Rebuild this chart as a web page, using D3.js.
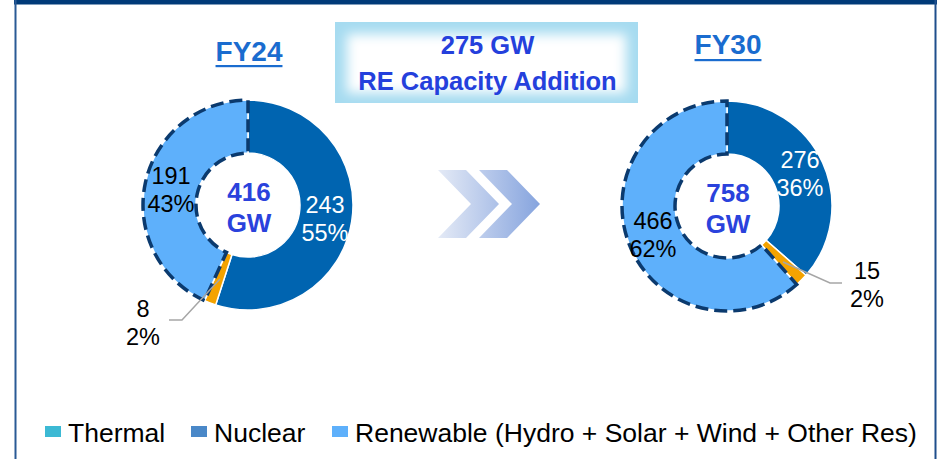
<!DOCTYPE html>
<html>
<head>
<meta charset="utf-8">
<script src="https://cdn.jsdelivr.net/npm/d3@7"></script>
<style>
html,body{margin:0;padding:0;background:#fff;}
svg{display:block;font-family:"Liberation Sans",Arial,sans-serif;}
</style>
</head>
<body>
<svg id="chart" width="937" height="459"></svg>
<script>
// ---- data ----
const categories = ["Thermal", "Nuclear", "Renewable (Hydro + Solar + Wind + Other Res)"];
const periods = ["FY24", "FY30"];
const totals = ["416", "758"];
const fy24Values = [243, 8, 191];
const fy24Pct = ["55%", "2%", "43%"];
const fy30Values = [276, 15, 466];
const fy30Pct = ["36%", "2%", "62%"];
const boxLines = ["275 GW", "RE Capacity Addition"];

// ---- styles ----
const sliceColors = ["#0064b0", "#f4a300", "#5eb0fb"];
const legendColors = ["#3cb9d4", "#4a88c8", "#5eb0fb"];
const W = 937, H = 459;
const svg = d3.select("#chart");
const defs = svg.append("defs");

// frame
svg.append("rect").attr("x", 14).attr("y", 0).attr("width", W - 14).attr("height", 4.5).attr("fill", "#003a78");
svg.append("line").attr("x1", 15.5).attr("x2", 15.5).attr("y1", 0).attr("y2", H).attr("stroke", "#2a5a95").attr("stroke-width", 2);
svg.append("line").attr("x1", 935.5).attr("x2", 935.5).attr("y1", 0).attr("y2", H).attr("stroke", "#1f4e8c").attr("stroke-width", 2);

// center box with glow
const blur = defs.append("filter").attr("id", "blur").attr("x", "-20%").attr("y", "-50%").attr("width", "140%").attr("height", "200%");
blur.append("feGaussianBlur").attr("stdDeviation", 6);
const box = {x: 335, y: 22, w: 303, h: 81};
svg.append("rect").attr("x", box.x).attr("y", box.y).attr("width", box.w).attr("height", box.h).attr("fill", "#a6dbf0");
const clip = defs.append("clipPath").attr("id", "boxclip");
clip.append("rect").attr("x", box.x).attr("y", box.y).attr("width", box.w).attr("height", box.h);
svg.append("g").attr("clip-path", "url(#boxclip)")
  .append("rect").attr("x", box.x + 12).attr("y", box.y + 12).attr("width", box.w - 24).attr("height", box.h - 22)
  .attr("fill", "#ffffff").attr("filter", "url(#blur)");
svg.selectAll("text.box").data(boxLines).join("text").attr("class", "box")
  .attr("x", box.x + box.w / 2 + 1).attr("y", (d, i) => 54 + i * 35.5)
  .attr("text-anchor", "middle").attr("font-size", 25.5).attr("font-weight", "bold").attr("fill", "#2440dc")
  .text(d => d);

// chevrons
const grad = defs.append("linearGradient").attr("id", "chev").attr("gradientUnits", "userSpaceOnUse")
  .attr("x1", 438).attr("x2", 540).attr("y1", 0).attr("y2", 0);
grad.append("stop").attr("offset", 0).attr("stop-color", "#e4eaf6");
grad.append("stop").attr("offset", 1).attr("stop-color", "#86a4de");
[438, 479].forEach(x0 => {
  const top = 170, bot = 238, mid = 204, w = 28, d = 33;
  svg.append("path")
    .attr("d", `M${x0},${top}L${x0 + w},${top}L${x0 + w + d},${mid}L${x0 + w},${bot}L${x0},${bot}L${x0 + d},${mid}Z`)
    .attr("fill", "url(#chev)");
});

// donuts
const pie = d3.pie().sort(null).value(d => d);
const donuts = [
  {cx: 248, cy: 205, values: fy24Values, pct: fy24Pct, total: totals[0], title: periods[0], titleY: 61, ulY: 65,
   labels: [{x: 325, y: 213, fill: "#fff"}, {x: 143, y: 317, fill: "#000"}, {x: 171, y: 184, fill: "#000"}],
   leader: [[220, 279], [182, 320], [169, 320]]},
  {cx: 727, cy: 206, values: fy30Values, pct: fy30Pct, total: totals[1], title: periods[1], titleY: 54, ulY: 59,
   labels: [{x: 800, y: 168, fill: "#fff"}, {x: 867, y: 279, fill: "#000"}, {x: 653, y: 229, fill: "#000"}],
   leader: [[783, 262], [830, 283], [842, 283]]}
];
const arc = d3.arc().innerRadius(52).outerRadius(105);

donuts.forEach(dn => {
  const g = svg.append("g").attr("transform", `translate(${dn.cx},${dn.cy})`);
  const arcs = pie(dn.values);
  g.selectAll("path.slice").data(arcs).join("path").attr("class", "slice")
    .attr("d", arc).attr("fill", (d, i) => sliceColors[i])
    .attr("stroke", "#fff").attr("stroke-width", 1.5);
  // dashed outline for renewable
  g.append("path").attr("d", arc(arcs[2])).attr("fill", "none")
    .attr("stroke", "#0b3a6e").attr("stroke-width", 3.5).attr("stroke-dasharray", "13,6");
  // center total
  g.append("text").attr("x", 1).attr("y", -4).attr("text-anchor", "middle")
    .attr("font-size", 26).attr("font-weight", "bold").attr("fill", "#2a42dc").text(dn.total);
  g.append("text").attr("x", 1).attr("y", 27).attr("text-anchor", "middle")
    .attr("font-size", 26).attr("font-weight", "bold").attr("fill", "#2a42dc").text("GW");
  // leader
  svg.append("path").attr("d", d3.line()(dn.leader)).attr("fill", "none")
    .attr("stroke", "#a6a6a6").attr("stroke-width", 1.5);
  // labels
  dn.values.forEach((v, i) => {
    const L = dn.labels[i];
    const t = svg.append("text").attr("text-anchor", "middle").attr("font-size", 23.5).attr("fill", L.fill);
    t.append("tspan").attr("x", L.x).attr("y", L.y).text(v);
    t.append("tspan").attr("x", L.x).attr("y", L.y + 27.5).text(dn.pct[i]);
  });
  // title
  const tt = svg.append("text").attr("x", dn.cx + 1).attr("y", dn.titleY).attr("text-anchor", "middle")
    .attr("font-size", 28).attr("font-weight", "bold").attr("fill", "#1a6ccf").text(dn.title);
  const tw = tt.node().getComputedTextLength();
  svg.append("rect").attr("x", dn.cx + 1 - tw / 2).attr("y", dn.ulY).attr("width", tw).attr("height", 2.2).attr("fill", "#1a6ccf");
});

// legend
const legendX = [68, 214, 355];
const lg = svg.append("g");
categories.forEach((c, i) => {
  lg.append("rect").attr("x", legendX[i] - 23).attr("y", 426).attr("width", 16).attr("height", 11).attr("fill", legendColors[i]);
  lg.append("text").attr("x", legendX[i]).attr("y", 441.5).attr("font-size", 26.5).attr("fill", "#000").text(c);
});
</script>
</body>
</html>
